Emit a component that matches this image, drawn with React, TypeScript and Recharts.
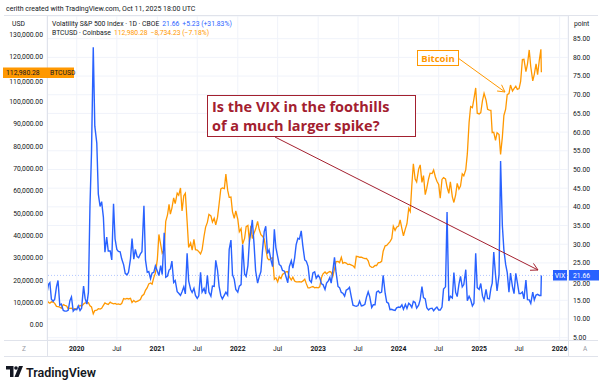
import { LineChart, Line, XAxis, YAxis, CartesianGrid, ReferenceLine } from "recharts"

// BTCUSD (Coinbase), sampled on days 1, 8, 16, 23 of each month
const BTC_2019 = [
  10900, 10100,
  9750, 10400, 10250, 9700, 8300, 8200, 8000, 7450,
  9150, 8800, 8500, 7300, 7400, 7500, 6900, 7300,
]
const BTC_2020 = [
  7200, 8050, 8800, 8400, 9350, 9900, 9900, 9950, 8550, 8100, 5000, 6450,
  6600, 7300, 7100, 7500, 8800, 9900, 9400, 9200, 10200, 9750, 9450, 9650,
  9250, 9400, 9150, 9600, 11800, 11600, 11900, 11650, 11900, 10100, 11000, 10250,
  10600, 10900, 11350, 13000, 13750, 15500, 16700, 18400, 18800, 18300, 21300, 23200,
]
const BTC_2021 = [
  29400, 40500, 36000, 32100, 33500, 46400, 49200, 54000, 49600, 52300, 56800, 54300,
  59000, 58000, 61300, 51000, 57800, 58900, 46400, 34700, 36700, 33500, 38300, 33700,
  33500, 32800, 31800, 33600, 39800, 43800, 45900, 49500, 48800, 46000, 47700, 44800,
  48100, 53900, 60900, 61300, 61000, 67500, 60300, 57100, 57200, 50600, 47700, 51000,
]
const BTC_2022 = [
  47300, 41700, 43100, 36200, 38700, 44000, 44500, 37300, 44400, 38700, 41100, 42900,
  46300, 42800, 40400, 39700, 38500, 34100, 29800, 29100, 29800, 30100, 20400, 21100,
  19300, 21600, 20800, 22600, 23300, 23800, 23900, 21500, 20100, 21400, 19700, 19300,
  19300, 19400, 19200, 19600, 20500, 18500, 16600, 16600, 17000, 17200, 16600, 16800,
]
const BTC_2023 = [
  16600, 17100, 21200, 22900, 23700, 22900, 23600, 23900, 23600, 21700, 25000, 28300,
  28400, 27900, 30300, 27600, 28000, 27700, 27000, 27200, 26800, 26500, 25600, 30700,
  30600, 30300, 30300, 30000, 29700, 29800, 28700, 26400, 25800, 25900, 26600, 26600,
  27900, 27900, 28500, 33000, 35400, 35600, 36500, 37300, 38700, 44200, 42300, 43700,
]
const BTC_2024 = [
  44200, 47000, 43100, 39900, 43100, 45300, 52100, 50700, 62400, 72100, 65300, 64000,
  69700, 71600, 63800, 66800, 58300, 61200, 65300, 67900, 67700, 69300, 66200, 64300,
  62900, 56700, 65100, 65900, 65300, 61700, 58900, 64000, 57300, 54800, 58200, 63300,
  60800, 62100, 67600, 66700, 69500, 76500, 90500, 97700, 97200, 101100, 106000, 94700,
]
const BTC_2025 = [
  94400, 95000, 100500, 103600, 100600, 96500, 96100, 96000, 86000, 86200, 82600, 86000,
  85200, 76300, 84000, 93700, 96500, 103000, 103500, 107300, 104600, 105700, 106800, 105400,
  105700, 108900, 118700, 118800, 113300, 116700, 123000, 115500, 109200, 112100, 116800, 112000,
  118600, 123300, 112980.28,
]

// Volatility S&P 500 Index (VIX), same dates
const VIX_2019 = [
  16.9, 19.3,
  19.7, 15.3, 14.7, 15.3, 18.6, 20.3, 13.7, 14.0,
  12.3, 12.1, 12.1, 12.3, 14.9, 15.9, 12.1, 12.6,
]
const VIX_2020 = [
  12.5, 13.5, 12.3, 12.9, 18.8, 15.5, 14.0, 17.1, 40.1, 54.5, 82.7, 61.6,
  57.1, 43.4, 40.1, 41.4, 37.2, 27.9, 31.9, 28.2, 28.2, 25.8, 40.8, 31.4,
  28.6, 28.1, 28.0, 26.1, 24.5, 22.2, 21.8, 22.5, 26.1, 31.5, 26.0, 28.6,
  26.7, 26.4, 27.4, 28.0, 40.3, 25.8, 22.5, 22.7, 20.8, 22.3, 22.5, 24.2,
]
const VIX_2021 = [
  22.8, 21.6, 24.3, 21.9, 33.1, 21.2, 21.5, 23.1, 23.4, 25.5, 19.8, 20.3,
  17.3, 16.9, 16.3, 17.3, 18.6, 16.7, 27.6, 20.2, 17.9, 17.1, 18.2, 16.3,
  15.5, 16.2, 22.5, 17.2, 18.2, 16.7, 21.7, 17.2, 16.1, 18.8, 18.7, 25.7,
  23.1, 18.8, 16.3, 15.4, 16.4, 17.2, 16.4, 28.6, 31.1, 21.9, 20.6, 17.9,
]
const VIX_2022 = [
  17.2, 18.8, 19.2, 29.9, 22.0, 21.4, 24.3, 31.0, 33.3, 36.5, 29.9, 22.9,
  19.6, 21.2, 22.7, 28.2, 33.4, 34.8, 27.5, 28.5, 25.7, 24.0, 34.0, 29.1,
  26.7, 24.6, 24.2, 23.0, 22.8, 21.3, 19.7, 24.0, 25.6, 23.6, 26.3, 29.9,
  31.6, 31.4, 33.6, 29.7, 25.8, 25.5, 24.1, 20.4, 19.8, 22.3, 22.6, 20.9,
]
const VIX_2023 = [
  21.7, 21.1, 19.4, 19.2, 17.9, 19.6, 20.2, 21.1, 19.6, 22.6, 26.5, 22.6,
  18.7, 18.4, 17.1, 16.9, 16.1, 17.7, 18.0, 18.5, 15.7, 13.7, 13.5, 13.4,
  13.6, 14.8, 13.5, 13.6, 13.9, 15.8, 17.3, 16.0, 13.1, 13.8, 13.8, 17.2,
  17.5, 17.0, 17.2, 21.7, 16.9, 14.5, 14.2, 12.5, 12.6, 12.4, 12.3, 13.0,
]
const VIX_2024 = [
  13.2, 13.1, 13.8, 12.6, 13.9, 12.8, 14.2, 13.8, 13.1, 14.7, 14.4, 12.9,
  13.7, 15.2, 18.7, 15.7, 15.4, 13.0, 12.4, 12.8, 12.9, 12.2, 12.8, 13.2,
  12.4, 12.4, 13.2, 18.0, 18.6, 38.6, 14.8, 16.1, 15.6, 22.4, 17.1, 16.0,
  19.3, 21.4, 18.6, 19.2, 23.2, 14.9, 16.1, 15.2, 13.5, 14.2, 27.6, 18.4,
]
const VIX_2025 = [
  17.9, 19.5, 16.1, 15.0, 17.9, 15.5, 15.4, 18.2, 19.6, 27.9, 21.8, 17.5,
  21.8, 52.3, 35.0, 28.5, 24.6, 22.5, 17.2, 22.3, 18.6, 16.8, 22.2, 19.8,
  16.8, 16.8, 17.2, 15.4, 20.4, 15.2, 15.1, 14.2, 17.2, 15.1, 16.4, 16.6,
  16.3, 16.3, 21.66,
]

const BTC = [...BTC_2019, ...BTC_2020, ...BTC_2021, ...BTC_2022, ...BTC_2023, ...BTC_2024, ...BTC_2025]
const VIX = [...VIX_2019, ...VIX_2020, ...VIX_2021, ...VIX_2022, ...VIX_2023, ...VIX_2024, ...VIX_2025]

const DAYS = [1, 8, 16, 23]
const FIRST_DAYS = [19, 26] // Aug 2019
const LAST_DAYS = [1, 8, 10] // Oct 2025

const LEFT_TICKS = [0, 10000, 20000, 30000, 40000, 50000, 60000, 70000, 80000, 90000, 100000, 110000, 120000, 130000]
const RIGHT_TICKS = [5, 10, 15, 20, 25, 30, 35, 40, 45, 50, 55, 60, 65, 70, 75, 80, 85]
const TICK_YEARS = [2020, 2021, 2022, 2023, 2024, 2025, 2026]

function buildDates() {
  const out: number[] = []
  for (let y = 2019; y <= 2025; y++) {
    for (let m = 0; m < 12; m++) {
      if (y === 2019 && m < 7) continue
      if (y === 2025 && m > 9) break
      const days = y === 2019 && m === 7 ? FIRST_DAYS : y === 2025 && m === 9 ? LAST_DAYS : DAYS
      days.forEach((d) => out.push(Date.UTC(y, m, d)))
    }
  }
  return out
}

const data = buildDates().map((t, i) => ({ t, btc: BTC[i], vix: VIX[i] }))

const X_MIN = Date.UTC(2019, 7, 19)
const X_MAX = Date.UTC(2026, 1, 8)
const xTicks = TICK_YEARS.flatMap((y) => [Date.UTC(y, 0, 1), Date.UTC(y, 6, 1)]).filter((t) => t <= X_MAX)

const BLUE = "#2962ff"
const ORANGE = "#ff9800"
const RED = "#a3202f"
const TXT = "#131722"
const FONT = "Roboto, 'Noto Sans', sans-serif"

const fmt = (v: number) => v.toLocaleString("en-US", { minimumFractionDigits: 2, maximumFractionDigits: 2 })

const XTick = ({ x, y, payload }: any) => {
  const d = new Date(payload.value)
  const jan = d.getUTCMonth() === 0
  return (
    <text x={x} y={y} dy={10.5} textAnchor="middle" fontSize={6.8} fontWeight={jan ? 700 : 400} fill={TXT} fontFamily={FONT}>
      {jan ? d.getUTCFullYear() : "Jul"}
    </text>
  )
}

// the 110,000 label sits under the BTCUSD price tag
const LeftTick = ({ x, y, payload }: any) => (
  <text x={x} y={y} dy={payload.value === 110000 ? 4.8 : 2.4} textAnchor="end" fontSize={6.8} fill={TXT} fontFamily={FONT}>
    {fmt(payload.value)}
  </text>
)

// the 20.00 label sits under the VIX price tag
const RightTick = ({ x, y, payload }: any) => (
  <text x={x} y={y} dy={payload.value === 20 ? 4.8 : 2.4} textAnchor="start" fontSize={6.8} fill={TXT} fontFamily={FONT}>
    {fmt(payload.value)}
  </text>
)

function Arrow({ x1, y1, x2, y2, color }: { x1: number; y1: number; x2: number; y2: number; color: string }) {
  const a = Math.atan2(y2 - y1, x2 - x1)
  const len = 8
  const p1 = [x2 - len * Math.cos(a - 0.5), y2 - len * Math.sin(a - 0.5)]
  const p2 = [x2 - len * Math.cos(a + 0.5), y2 - len * Math.sin(a + 0.5)]
  return (
    <g stroke={color} strokeWidth={1} fill="none">
      <line x1={x1} y1={y1} x2={x2} y2={y2} />
      <polyline points={`${p1[0]},${p1[1]} ${x2},${y2} ${p2[0]},${p2[1]}`} />
    </g>
  )
}

export default function App() {
  return (
    <div style={{ position: "absolute", left: 0, top: 0, width: 602, height: 388, background: "#fff", fontFamily: FONT }}>
      <div style={{ position: "absolute", left: 0, top: 16 }}>
        <LineChart width={602} height={340} data={data} margin={{ top: 0, right: 0, bottom: 0, left: 0 }}>
          <CartesianGrid yAxisId="right" stroke="#f0f3fa" strokeWidth={1} />
          <XAxis
            dataKey="t"
            type="number"
            domain={[X_MIN, X_MAX]}
            ticks={xTicks}
            interval={0}
            allowDataOverflow
            height={16}
            tickLine={false}
            axisLine={false}
            tickSize={0}
            tickMargin={0}
            tick={<XTick />}
          />
          <YAxis
            yAxisId="left"
            orientation="left"
            width={47}
            domain={[-6708, 138184]}
            ticks={LEFT_TICKS}
            interval={0}
            allowDataOverflow
            tickLine={false}
            axisLine={false}
            tickSize={0}
            tickMargin={4}
            tick={<LeftTick />}
          />
          <YAxis
            yAxisId="right"
            orientation="right"
            width={34}
            domain={[4.38, 91.07]}
            ticks={RIGHT_TICKS}
            interval={0}
            allowDataOverflow
            tickLine={false}
            axisLine={false}
            tickSize={0}
            tickMargin={5}
            tick={<RightTick />}
          />
          <ReferenceLine yAxisId="right" y={21.66} stroke={BLUE} strokeOpacity={0.35} strokeDasharray="1 2" />
          <Line yAxisId="left" dataKey="btc" type="linear" stroke={ORANGE} strokeWidth={1.3} dot={false} isAnimationActive={false} />
          <Line yAxisId="right" dataKey="vix" type="linear" stroke={BLUE} strokeWidth={1.4} dot={false} isAnimationActive={false} />
        </LineChart>
      </div>

      <svg width={602} height={388} style={{ position: "absolute", left: 0, top: 0, pointerEvents: "none" }} fontFamily={FONT}>
        {/* frame */}
        <g stroke="#e0e3eb" strokeWidth={1}>
          <line x1={4} y1={15.5} x2={598} y2={15.5} />
          <line x1={4} y1={340.5} x2={598} y2={340.5} />
          <line x1={4} y1={356.5} x2={598} y2={356.5} />
          <line x1={47.5} y1={16} x2={47.5} y2={356} />
          <line x1={568.5} y1={16} x2={568.5} y2={356} />
        </g>
        <rect x={569} y={341} width={29} height={15} fill="#fff" />
        <text x={585} y={350.5} fontSize={6.5} fill="#9598a1" textAnchor="middle">A</text>
        <text x={24} y={350.5} fontSize={6.5} fill="#9598a1" textAnchor="middle">Z</text>

        {/* header */}
        <text x={6} y={10.5} fontSize={7} fill={TXT}>cerith created with TradingView.com, Oct 11, 2025 18:00 UTC</text>
        <text x={12} y={25.5} fontSize={6.8} fill={TXT}>USD</text>
        <text x={574} y={25.5} fontSize={6.8} fill={TXT}>point</text>
        <text x={52} y={25.5} fontSize={6.8} fill={TXT}>
          Volatility S&amp;P 500 Index · 1D · CBOE
          <tspan fill={BLUE} dx={3}>21.66</tspan>
          <tspan fill={BLUE} dx={3}>+5.23 (+31.83%)</tspan>
        </text>
        <text x={52} y={34.5} fontSize={6.8} fill={TXT}>
          BTCUSD · Coinbase
          <tspan fill={ORANGE} dx={3}>112,980.28</tspan>
          <tspan fill={ORANGE} dx={3}>−8,734.23 (−7.18%)</tspan>
        </text>

        {/* last value labels */}
        <rect x={3} y={67.5} width={71} height={10.5} fill={ORANGE} />
        <text x={6} y={75.1} fontSize={6.8} fill={TXT}>112,980.28</text>
        <text x={50} y={75.1} fontSize={6.8} fill={TXT}>BTCUSD</text>
        <rect x={553} y={270} width={14} height={10.5} fill={BLUE} />
        <text x={560} y={277.6} fontSize={6.8} fill="#fff" textAnchor="middle">VIX</text>
        <rect x={569} y={270} width={30} height={10.5} fill={BLUE} />
        <text x={573} y={277.6} fontSize={6.8} fill="#fff">21.66</text>

        {/* annotations */}
        <rect x={207.5} y={95.5} width={208} height={41} fill="#fff" stroke={RED} strokeWidth={1} />
        <text x={212} y={112} fontSize={14.5} fontWeight={700} fill={RED} fontFamily="'Open Sans', sans-serif">Is the VIX in the foothills</text>
        <text x={212} y={131} fontSize={14.5} fontWeight={700} fill={RED} fontFamily="'Open Sans', sans-serif">of a much larger spike?</text>
        <Arrow x1={275} y1={137} x2={538} y2={270} color={RED} />

        <rect x={417.5} y={50.5} width={41} height={15} fill="#fff" stroke={ORANGE} strokeWidth={1} />
        <text x={438} y={61.5} fontSize={9.5} fontWeight={700} fill={ORANGE} textAnchor="middle" fontFamily="'Open Sans', sans-serif">Bitcoin</text>
        <Arrow x1={458} y1={58} x2={505} y2={92} color={ORANGE} />

        {/* footer logo */}
        <g fill={TXT}>
          <path d="M6 366 H13.5 V377 H10 V369.5 H6 Z" />
          <circle cx={16} cy={368} r={1.8} />
          <path d="M19 366 H23 L18.5 377 H14.5 Z" />
        </g>
        <text x={26} y={377} fontSize={12.5} fontWeight={600} fill={TXT}>TradingView</text>
      </svg>
    </div>
  )
}
